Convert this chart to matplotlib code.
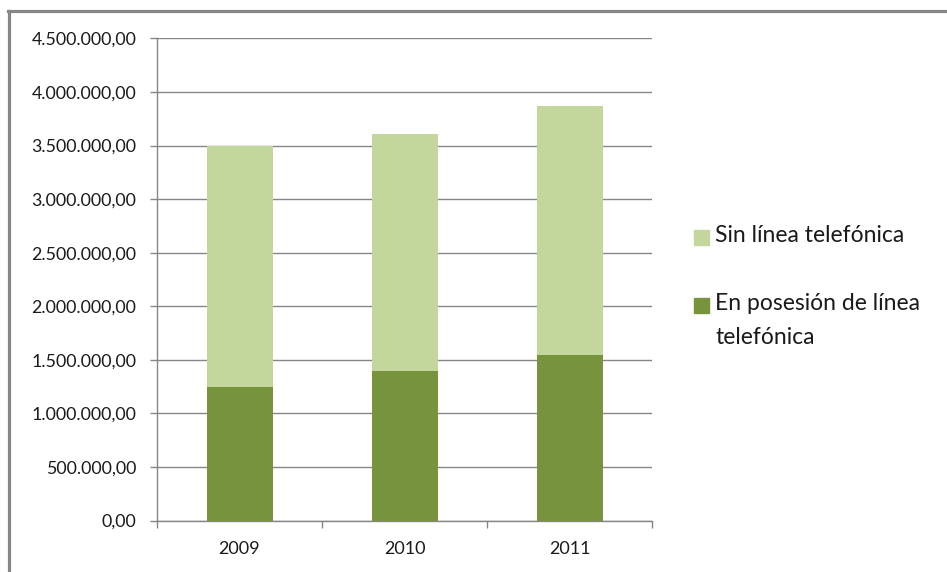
import matplotlib.pyplot as plt
from matplotlib.ticker import FuncFormatter, FixedLocator
from matplotlib.lines import Line2D
from matplotlib.patches import Rectangle

years = ['2009', '2010', '2011']
con_linea = [1250000, 1396000, 1545000]
sin_linea = [2250000, 2213000, 2325000]
label_sin = 'Sin línea telefónica'
label_con = 'En posesión de línea\ntelefónica'

dark = '#77933C'
light = '#C3D69B'
grey = '#868686'

plt.rcParams['font.family'] = ['Lato', 'DejaVu Sans']

fig = plt.figure(figsize=(9.47, 5.72), dpi=100)
ax = fig.add_axes([0.1658, 0.09, 0.6885 - 0.1658, 0.9327 - 0.09])

x = range(len(years))
b1 = ax.bar(x, con_linea, width=0.4, color=dark, zorder=3)
b2 = ax.bar(x, sin_linea, width=0.4, bottom=con_linea, color=light, zorder=3)

ax.set_xlim(-0.5, 2.5)
ax.set_ylim(0, 4500000)
ax.set_yticks(range(0, 4500001, 500000))

def fmt(v, pos):
    s = '{:,.2f}'.format(v)
    return s.replace(',', 'X').replace('.', ',').replace('X', '.')

ax.yaxis.set_major_formatter(FuncFormatter(fmt))
ax.set_xticks(list(x))
ax.set_xticklabels(years)
ax.tick_params(axis='x', which='major', length=0, pad=15, labelsize=13, labelcolor='#1a1a1a')
ax.xaxis.set_minor_locator(FixedLocator([-0.5, 0.5, 1.5, 2.5]))
ax.tick_params(axis='x', which='minor', length=5, color=grey, width=1)
ax.tick_params(axis='y', length=5, color=grey, width=1, pad=10, labelsize=12.8, labelcolor='#1a1a1a')

ax.grid(axis='y', color=grey, linewidth=1, zorder=0)
for s in ['top', 'right']:
    ax.spines[s].set_visible(False)
for s in ['left', 'bottom']:
    ax.spines[s].set_color(grey)
    ax.spines[s].set_linewidth(1)

# legend, drawn by hand so the swatch sits beside the first line
W, H = 947, 572
entries = [(light, label_sin, 237), (dark, label_con, 305)]
for col, lab, yc in entries:
    fig.add_artist(Rectangle((694 / W, 1 - (yc + 7.5) / H), 15 / W, 15 / H,
                             transform=fig.transFigure, color=col))
    fig.text(715 / W, 1 - (yc - 12) / H, lab, va='top', ha='left',
             fontsize=16.5, color='#1a1a1a', linespacing=1.75)

# chart border (top and left only visible)
fig.add_artist(Line2D([8 / W, 1], [1 - 11 / H] * 2, color=grey, linewidth=2.3,
                      transform=fig.transFigure))
fig.add_artist(Line2D([8.5 / W] * 2, [0, 1 - 11 / H], color=grey, linewidth=2.3,
                      transform=fig.transFigure))

fig.savefig('out.png', dpi=100)
